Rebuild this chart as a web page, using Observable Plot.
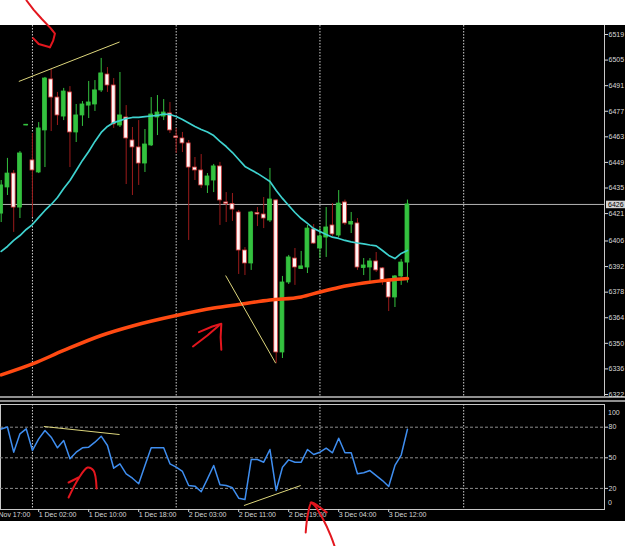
<!DOCTYPE html>
<html>
<head>
<meta charset="utf-8">
<script src="https://cdn.jsdelivr.net/npm/d3@7"></script>
<script src="https://cdn.jsdelivr.net/npm/@observablehq/plot@0.6"></script>
<style>
html, body { margin: 0; padding: 0; background: #fff; }
#wrap { position: relative; width: 625px; height: 546px; overflow: hidden; }
#bg { position: absolute; left: 0; top: 25px; width: 625px; height: 496px; background: #000; }
#axisline { position: absolute; left: 604px; top: 25px; width: 1px; height: 371px; background: #c8c8c8; }
.sep { position: absolute; left: 0; width: 625px; height: 2px; background: #8f8f8f; }
#wrap svg { position: absolute; left: 0; top: 0; }
</style>
</head>
<body>
<div id="wrap">
  <div id="bg"></div>
  <div id="axisline"></div>
  <div class="sep" style="top:396px"></div>
  <div class="sep" style="top:400px"></div>
</div>
<script>
// ---------- data (H1 candles, bar index 0..65) ----------
const open = [6421.0, 6435.3, 6442.9, 6424.3, 6469.2, 6450.1, 6443.5, 6466.5, 6494.4, 6484.5, 6474.1, 6487.3, 6465.4, 6474.7, 6480.1, 6480.7, 6488.4, 6497.1, 6491.1, 6469.2, 6473.6, 6461.0, 6457.2, 6448.4, 6458.3, 6473.6, 6474.1, 6475.8, 6463.2, 6462.1, 6459.4, 6446.2, 6444.6, 6436.4, 6439.1, 6446.8, 6427.1, 6426.3, 6421.6, 6400.8, 6393.7, 6421.3, 6420.5, 6417.2, 6428.2, 6345.0, 6383.3, 6396.4, 6390.7, 6391.5, 6412.3, 6401.9, 6407.9, 6414.5, 6409.0, 6427.1, 6415.0, 6415.6, 6391.2, 6391.5, 6394.8, 6391.0, 6383.8, 6375.1, 6386.6, 6394.2];
const high = [6439.1, 6451.2, 6444.6, 6455.0, 6469.8, 6464.8, 6470.8, 6495.5, 6499.9, 6487.3, 6489.5, 6490.5, 6480.7, 6482.3, 6493.3, 6493.8, 6505.9, 6500.9, 6494.9, 6498.2, 6480.1, 6468.1, 6471.9, 6467.0, 6484.5, 6485.6, 6483.4, 6481.8, 6467.6, 6465.4, 6461.0, 6451.7, 6453.3, 6442.9, 6447.9, 6449.0, 6432.5, 6432.0, 6422.7, 6402.4, 6422.2, 6424.3, 6429.8, 6445.7, 6428.7, 6386.6, 6398.1, 6401.9, 6400.3, 6414.5, 6415.0, 6413.4, 6424.3, 6426.5, 6433.6, 6428.4, 6421.6, 6418.3, 6396.4, 6396.4, 6399.7, 6391.5, 6384.4, 6387.1, 6395.9, 6428.4];
const low = [6416.1, 6430.9, 6410.7, 6418.3, 6469.0, 6418.9, 6442.9, 6446.2, 6465.9, 6469.2, 6471.9, 6446.2, 6459.9, 6468.7, 6473.0, 6476.9, 6487.3, 6487.3, 6467.6, 6468.1, 6436.9, 6430.9, 6436.4, 6443.5, 6457.7, 6463.7, 6471.9, 6464.8, 6453.9, 6454.4, 6406.3, 6439.1, 6434.7, 6432.0, 6432.5, 6414.5, 6416.1, 6416.7, 6387.7, 6387.1, 6389.9, 6413.9, 6412.8, 6416.1, 6339.0, 6341.7, 6382.2, 6381.7, 6390.4, 6388.2, 6404.1, 6396.4, 6397.0, 6408.5, 6407.9, 6414.5, 6410.1, 6389.9, 6387.1, 6383.8, 6388.8, 6381.7, 6367.4, 6369.6, 6381.7, 6383.0];
const close = [6436.4, 6442.9, 6424.3, 6453.9, 6469.6, 6444.6, 6467.6, 6494.9, 6484.5, 6474.7, 6487.8, 6465.4, 6474.7, 6480.7, 6481.8, 6488.4, 6497.7, 6491.1, 6469.8, 6474.7, 6462.1, 6457.2, 6448.4, 6458.8, 6475.2, 6476.3, 6476.3, 6466.5, 6462.4, 6459.4, 6446.2, 6444.6, 6436.4, 6441.3, 6446.8, 6428.2, 6426.3, 6423.2, 6400.8, 6393.7, 6421.6, 6420.5, 6418.3, 6428.7, 6345.0, 6383.3, 6397.0, 6391.5, 6392.1, 6412.8, 6404.6, 6408.5, 6413.4, 6409.6, 6426.5, 6415.6, 6416.4, 6391.5, 6392.6, 6394.8, 6389.9, 6384.4, 6375.1, 6386.6, 6394.2, 6426.0];

// fast moving average (cyan), one value per bar
const maFast = [6400.3, 6403.0, 6406.3, 6409.0, 6412.3, 6415.0, 6418.9, 6422.7, 6426.0, 6429.8, 6434.7, 6439.1, 6444.6, 6450.1, 6455.0, 6460.5, 6465.4, 6468.7, 6470.8, 6471.9, 6473.0, 6473.6, 6473.7, 6474.1, 6474.4, 6474.7, 6475.5, 6475.2, 6474.1, 6472.5, 6470.6, 6468.7, 6467.0, 6465.6, 6463.7, 6460.5, 6457.7, 6454.4, 6450.6, 6446.8, 6444.9, 6443.0, 6440.8, 6438.6, 6433.6, 6429.3, 6425.4, 6421.6, 6418.3, 6415.6, 6412.8, 6411.2, 6409.6, 6408.1, 6407.4, 6406.3, 6405.5, 6404.9, 6404.4, 6403.8, 6403.3, 6400.8, 6398.1, 6396.4, 6399.2, 6400.8];

// slow moving average (orange), read at key bars
const maSlowBars = [0, 5, 10, 16, 21, 28, 34, 38, 43, 48, 51, 54, 58, 62, 65];
const maSlowValues = [6332.7, 6338.7, 6346.1, 6354.3, 6359.5, 6365.2, 6369.3, 6371.3, 6373.7, 6375.4, 6378.1, 6380.6, 6383.0, 6384.7, 6385.5];

// oscillator (lower panel), one value per bar
const osc = [78.2, 80.2, 55.5, 73.5, 78.4, 57.2, 68.6, 76.8, 70.2, 59.8, 67.0, 49.0, 55.5, 59.8, 60.4, 65.3, 71.2, 62.1, 39.8, 44.1, 34.3, 30.0, 24.5, 42.5, 59.8, 59.8, 59.8, 44.1, 40.8, 36.6, 22.8, 22.2, 16.7, 29.4, 42.5, 23.5, 22.8, 20.6, 10.4, 9.1, 48.3, 48.3, 45.7, 58.1, 17.9, 40.8, 48.0, 45.7, 45.7, 58.1, 53.2, 55.5, 59.4, 54.9, 69.2, 54.9, 54.9, 34.3, 35.3, 37.5, 32.6, 27.7, 21.9, 42.5, 52.7, 78.0];

const bidPrice = 6426;
const priceTicks = [6519, 6505, 6491, 6477, 6463, 6449, 6435, 6421, 6406, 6392, 6378, 6364, 6350, 6336, 6322];
const oscLevels = [20, 50, 80];
const timeBars = [-2, 6, 14, 22, 30, 38, 46, 54, 62];
const timeLabels = ["30 Nov 17:00", "1 Dec 02:00", "1 Dec 10:00", "1 Dec 18:00", "2 Dec 03:00", "2 Dec 11:00", "2 Dec 19:00", "3 Dec 04:00", "3 Dec 12:00"];
const gridBars = [5, 28, 51, 74];

// hand-drawn annotations: yellow trend lines [bar1, value1, bar2, value2]
const trendMain = [[2.82, 6493.3, 18.94, 6514.9], [35.91, 6387.1, 43.92, 6339.1]];
const trendOsc = [[6.82, 80.7, 18.94, 72.8], [38.84, 3.2, 47.92, 22.8]];
// red scribbles, points [bar, value]
const scribbleMain = [
  [[4.05, 6537.6], [5.2, 6532.5], [6.5, 6527.5], [7.9, 6522.5], [8.6, 6519.5], [8.3, 6515.5], [7.8, 6512.0]],
  [[5.1, 6517.0], [6.0, 6513.8], [7.8, 6512.0]],
  [[30.68, 6348.3], [32.98, 6354.3], [34.84, 6359.8]],
  [[31.64, 6356.1], [33.78, 6359.2], [35.22, 6360.7], [35.11, 6353.4], [35.22, 6346.5]]
];
const scribbleOsc = [
  [[10.78, 11.1], [12.38, 29.7], [13.82, 40.5], [14.78, 37.5], [15.26, 19.9]],
  [[10.78, 25.8], [12.38, 30.7]],
  [[53.36, -37.0], [52.72, -26.2], [51.44, -9.5], [50.16, 3.2], [49.52, 6.2]],
  [[48.72, -23.2], [49.04, -6.6], [49.68, 6.2], [50.8, 2.2], [52.08, -3.5]]
];

// ---------- tables ----------
const candles = open.map((o, i) => ({i, open: o, high: high[i], low: low[i], close: close[i], fast: maFast[i], osc: osc[i]}));
const slow = maSlowBars.map((b, k) => ({i: b, v: maSlowValues[k]}));
const toLink = a => a.map(([b1, v1, b2, v2]) => ({b1, v1, b2, v2}));
const toPath = paths => paths.flatMap((p, k) => p.map(([b, v]) => ({k, b, v})));

const BULL = "#34c23f", BEAR_WICK = "#9b1b1b", BEAR_EDGE = "#d03a3a";
const YELLOW = "#ddd67c", RED = "#e3161e";
const xScale = {domain: [0, 65], range: [0.7, 406.95], axis: null};
const style = {background: "none", color: "#d8d8d8", fontFamily: "Liberation Sans, Arial, sans-serif", fontSize: "7px", overflow: "visible"};

const mainPlot = Plot.plot({
  width: 625, height: 546,
  marginTop: 25, marginBottom: 150, marginLeft: 0, marginRight: 21,
  x: xScale,
  y: {domain: [6322, 6519], range: [394, 34], axis: null},
  style,
  marks: [
    Plot.ruleX(gridBars, {stroke: "#d0d0d0", strokeDasharray: "1.5,1.5"}),
    Plot.ruleY([bidPrice], {stroke: "#b4b4b4"}),
    Plot.ruleX(candles, {x: "i", y1: "low", y2: "high", stroke: d => d.close >= d.open ? BULL : BEAR_WICK}),
    Plot.rect(candles, {
      x1: d => d.i - 0.31, x2: d => d.i + 0.31, y1: "open", y2: "close",
      fill: d => d.close >= d.open ? BULL : "#fff4f4",
      stroke: d => d.close >= d.open ? BULL : BEAR_EDGE, strokeWidth: 0.8
    }),
    Plot.line(slow, {x: "i", y: "v", stroke: "#ff4a12", strokeWidth: 3.5, curve: "monotone-x"}),
    Plot.line(candles, {x: "i", y: "fast", stroke: "#3ed2cf", strokeWidth: 1.7}),
    Plot.link(toLink(trendMain), {x1: "b1", y1: "v1", x2: "b2", y2: "v2", stroke: YELLOW, strokeWidth: 1}),
    Plot.line(toPath(scribbleMain), {x: "b", y: "v", z: "k", stroke: RED, strokeWidth: 2, curve: "linear", strokeLinecap: "round", strokeLinejoin: "round"}),
    Plot.axisY(priceTicks, {anchor: "right", tickSize: 3, tickPadding: 1, tickFormat: d => String(d), label: null}),
    Plot.ruleY([bidPrice], {x1: 96.85, x2: 100.2, stroke: "#d4d4d4", strokeWidth: 7.5}),
    Plot.text([bidPrice], {y: d => d, frameAnchor: "right", dx: 3.5, textAnchor: "start", fill: "#000", text: d => String(d)})
  ]
});

const oscPlot = Plot.plot({
  width: 625, height: 546,
  marginTop: 404, marginBottom: 37, marginLeft: 0, marginRight: 21,
  x: xScale,
  y: {domain: [0, 100], range: [508.3, 406.3], axis: null},
  style,
  marks: [
    Plot.frame({stroke: "#c8c8c8"}),
    Plot.ruleY(oscLevels, {stroke: "#8c8c8c", strokeDasharray: "3,2"}),
    Plot.ruleX(gridBars, {stroke: "#d0d0d0", strokeDasharray: "1.5,1.5"}),
    Plot.line(candles, {x: "i", y: "osc", stroke: "#3f8ef0", strokeWidth: 1.5}),
    Plot.link(toLink(trendOsc), {x1: "b1", y1: "v1", x2: "b2", y2: "v2", stroke: YELLOW, strokeWidth: 1}),
    Plot.axisY(oscLevels, {anchor: "right", tickSize: 3, tickPadding: 1, tickFormat: d => String(d), label: null}),
    Plot.text(["100"], {frameAnchor: "top-right", dx: 3.5, dy: 5.5, textAnchor: "start"}),
    Plot.text(["0"], {frameAnchor: "bottom-right", dx: 3.5, dy: -5, textAnchor: "start"}),
    Plot.axisX(timeBars, {anchor: "bottom", tickSize: 3, tickFormat: () => "", label: null}),
    Plot.text(timeLabels, {x: (d, i) => timeBars[i], frameAnchor: "bottom", dy: 7, textAnchor: "start", text: d => d}),
    Plot.line(toPath(scribbleOsc), {x: "b", y: "v", z: "k", stroke: RED, strokeWidth: 2, curve: "catmull-rom", strokeLinecap: "round"})
  ]
});

const wrap = document.getElementById("wrap");
wrap.appendChild(mainPlot);
wrap.appendChild(oscPlot);
</script>
</body>
</html>
